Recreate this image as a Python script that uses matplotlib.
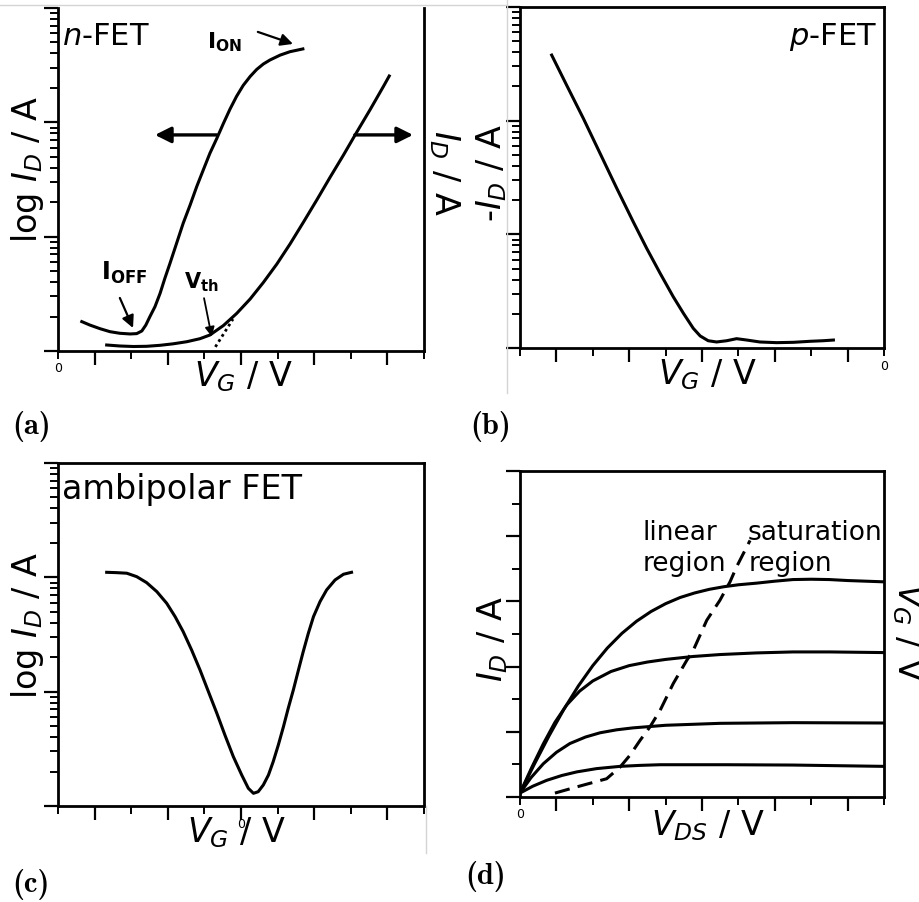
import numpy as np
import matplotlib
matplotlib.use("Agg")
import matplotlib.pyplot as plt
from matplotlib.lines import Line2D
from matplotlib.ticker import FixedLocator, LogLocator, NullFormatter

# ---- (a) n-FET transfer curves ----
a_vg_log = [0.65, 0.87, 1.15, 1.42, 1.69, 1.97, 2.15, 2.29, 2.40, 2.51, 2.65, 2.79,
            2.92, 3.06, 3.24, 3.42, 3.61, 3.79, 3.97, 4.15, 4.34, 4.52, 4.70, 4.88,
            5.06, 5.25, 5.43, 5.61, 5.79, 6.07, 6.34, 6.69]
a_log_id = [0.257, 0.227, 0.195, 0.169, 0.155, 0.149, 0.152, 0.175, 0.227, 0.300,
            0.388, 0.505, 0.636, 0.767, 0.942, 1.117, 1.277, 1.438, 1.584, 1.729,
            1.860, 1.991, 2.116, 2.228, 2.323, 2.401, 2.463, 2.510, 2.545, 2.588,
            2.618, 2.642]
a_vg_lin = [1.33, 1.69, 2.06, 2.42, 2.79, 3.15, 3.52, 3.88, 4.15, 4.52, 4.88, 5.25,
            5.61, 5.98, 6.34, 6.70, 7.07, 7.43, 7.80, 8.16, 8.53, 8.89, 9.05]
a_id_lin = [0.175, 0.146, 0.131, 0.137, 0.166, 0.210, 0.271, 0.359, 0.466, 0.743,
            1.093, 1.516, 1.997, 2.536, 3.120, 3.746, 4.402, 5.058, 5.714, 6.376,
            7.041, 7.711, 8.017]
vth_fit_x = [4.30, 4.78]
vth_fit_y = [0.12, 0.93]

# ---- (b) p-FET ----
b_vg = [0.87, 1.28, 1.74, 2.20, 2.66, 3.11, 3.48, 3.85, 4.21, 4.49, 4.76, 4.95,
        5.17, 5.40, 5.68, 5.95, 6.23, 6.59, 7.05, 7.51, 7.97, 8.33, 8.61]
b_log_id = [2.577, 2.313, 2.020, 1.712, 1.404, 1.111, 0.877, 0.657, 0.451, 0.305,
            0.173, 0.106, 0.064, 0.053, 0.064, 0.082, 0.070, 0.053, 0.047, 0.050,
            0.059, 0.064, 0.070]

# ---- (c) ambipolar FET ----
c_vg = [1.33, 1.60, 1.88, 2.15, 2.42, 2.70, 2.97, 3.20, 3.42, 3.65, 3.88, 4.11,
        4.34, 4.56, 4.79, 5.02, 5.20, 5.34, 5.47, 5.61, 5.75, 5.88, 6.02, 6.16,
        6.29, 6.43, 6.57, 6.70, 6.84, 6.98, 7.16, 7.34, 7.57, 7.80, 8.02]
c_log_id = [2.044, 2.041, 2.036, 2.006, 1.954, 1.875, 1.773, 1.656, 1.525, 1.365,
            1.190, 1.000, 0.811, 0.621, 0.432, 0.271, 0.155, 0.111, 0.125, 0.184,
            0.271, 0.388, 0.534, 0.694, 0.854, 1.015, 1.190, 1.350, 1.511, 1.656,
            1.788, 1.890, 1.977, 2.027, 2.044]

# ---- (d) output curves, one per gate voltage ----
d_vds_1 = [0, 0.4, 0.8, 1.2, 1.6, 2.0, 2.4, 2.8, 3.2, 3.6, 4.0, 4.4, 4.8, 5.2, 5.6,
           6.0, 6.5, 7.0, 7.5, 8.0, 8.5, 9.0, 9.5, 10.0]
d_id_1 = [0.12, 1.02, 1.88, 2.68, 3.40, 4.03, 4.57, 5.02, 5.39, 5.69, 5.93, 6.12,
          6.26, 6.37, 6.45, 6.51, 6.56, 6.62, 6.67, 6.68, 6.67, 6.64, 6.62, 6.60]
d_vds_2 = [0, 0.32, 0.64, 0.96, 1.28, 1.64, 2.0, 2.5, 3.0, 3.5, 4.0, 4.75, 5.5,
           6.5, 7.5, 8.5, 10.0]
d_id_2 = [0.12, 0.90, 1.63, 2.29, 2.82, 3.25, 3.56, 3.85, 4.03, 4.14, 4.22, 4.31,
          4.37, 4.42, 4.45, 4.45, 4.43]
d_vds_3 = [0, 0.3, 0.64, 1.0, 1.37, 1.8, 2.2, 2.65, 3.1, 4.0, 5.5, 7.5, 10.0]
d_id_3 = [0.12, 0.59, 1.02, 1.37, 1.64, 1.84, 1.97, 2.06, 2.12, 2.20, 2.26, 2.28,
          2.27]
d_vds_4 = [0, 0.35, 0.73, 1.15, 1.56, 2.10, 2.75, 3.30, 3.85, 5.68, 7.50, 9.98]
d_id_4 = [0.12, 0.33, 0.51, 0.66, 0.77, 0.87, 0.94, 0.97, 0.99, 0.99, 0.98, 0.94]
d_sat_x = [0.96, 1.56, 2.38, 2.75, 3.02, 3.30, 3.57, 3.85, 4.21, 4.58, 4.76, 5.13,
           5.49, 5.77, 5.95, 6.32]
d_sat_y = [0.12, 0.31, 0.56, 0.92, 1.28, 1.74, 2.15, 2.66, 3.48, 4.19, 4.50, 5.42,
           6.03, 6.60, 7.06, 7.87]

W, H = 920, 902
LW = 2.2


def fpos(x, y):
    return x / W, 1 - y / H


def box(l, t, r, b):
    return [l / W, 1 - b / H, (r - l) / W, (b - t) / H]


def style(ax, log=True, top=True):
    for s in ax.spines.values():
        s.set_linewidth(2.0)
    ax.spines["top"].set_visible(top)
    ax.set_xlim(0, 10)
    ax.xaxis.set_major_locator(FixedLocator([1, 3, 5, 7, 9]))
    ax.xaxis.set_minor_locator(FixedLocator([0, 2, 4, 6, 8, 10]))
    if log:
        ax.set_yscale("log")
        ax.set_ylim(1, 1000)
        ax.yaxis.set_major_locator(LogLocator(base=10))
        ax.yaxis.set_minor_locator(LogLocator(base=10, subs=np.arange(2, 10)))
    else:
        ax.set_ylim(0, 10)
        ax.yaxis.set_major_locator(FixedLocator([0, 2, 4, 6, 8, 10]))
        ax.yaxis.set_minor_locator(FixedLocator([1, 3, 5, 7, 9]))
    for axis in (ax.xaxis, ax.yaxis):
        axis.set_major_formatter(NullFormatter())
        axis.set_minor_formatter(NullFormatter())
    ax.tick_params(which="both", direction="out", left=True, bottom=True,
                   right=False, top=False, labelleft=False, labelbottom=False)
    ax.tick_params(which="major", length=10, width=1.6)
    ax.tick_params(which="minor", length=6, width=1.4)


def zero_label(ax, x):
    ax.annotate("0", xy=(x, 0), xycoords=("data", "axes fraction"),
                xytext=(0, -18), textcoords="offset pixels",
                ha="center", va="center", fontsize=9)


def panel_letter(x, y, s):
    fig.text(*fpos(x, y), s, fontsize=22, va="center", family="cmb10")


fig = plt.figure(figsize=(9.2, 9.02), dpi=100)

# (a)
ax = fig.add_axes(box(58, 8, 424, 351))
ax2 = ax.twinx()
style(ax, log=True, top=False)
ax2.set_ylim(0, 10)
ax2.set_yticks([])
for s in ax2.spines.values():
    s.set_visible(False)
ax.plot(a_vg_log, 10 ** np.array(a_log_id), color="k", lw=LW)
ax2.plot(a_vg_lin, a_id_lin, color="k", lw=LW)
ax2.plot(vth_fit_x, vth_fit_y, color="k", lw=2, ls=(0, (1, 1.2)))
big = dict(arrowstyle="-|>", lw=2.4, color="k", mutation_scale=24,
           shrinkA=0, shrinkB=0)
small = dict(arrowstyle="-|>", lw=1.6, color="k", mutation_scale=18,
             shrinkA=0, shrinkB=0)
ax.annotate("", xy=(2.65, 77.6), xytext=(4.34, 77.6), arrowprops=big)
ax2.annotate("", xy=(9.70, 6.30), xytext=(8.11, 6.30), arrowprops=big)
ax.annotate("", xy=(6.42, 485), xytext=(5.46, 618), arrowprops=small)
ax.annotate("", xy=(2.05, 1.59), xytext=(1.69, 2.91), arrowprops=small)
ax2.annotate("", xy=(4.20, 0.42), xytext=(3.99, 1.54),
             arrowprops=dict(arrowstyle="-|>", lw=1.3, color="k",
                             mutation_scale=14, shrinkA=0, shrinkB=0))
zero_label(ax, 0)
fig.text(*fpos(207, 48), r"$\mathbf{I}_{\mathbf{ON}}$", fontsize=16, va="baseline")
fig.text(*fpos(101, 280), r"$\mathbf{I}_{\mathbf{OFF}}$", fontsize=17, va="baseline")
fig.text(*fpos(184, 288), r"$\mathbf{V}_{\mathbf{th}}$", fontsize=15, va="baseline")
fig.text(*fpos(62, 45), r"$n$-FET", fontsize=22, va="baseline")
fig.text(*fpos(28, 169), r"log $I_D$ / A", rotation=90, fontsize=24,
         ha="center", va="center")
fig.text(*fpos(243, 377), r"$V_G$ / V", fontsize=24, ha="center", va="center")
fig.text(*fpos(444, 173), r"$I_D$ / A", rotation=270, fontsize=24,
         ha="center", va="center")

# (b)
bx = fig.add_axes(box(520, 7, 884, 348))
style(bx, log=True)
bx.plot(b_vg, 10 ** np.array(b_log_id), color="k", lw=LW)
zero_label(bx, 10)
fig.text(*fpos(877, 45), r"$p$-FET", fontsize=22, ha="right", va="baseline")
fig.text(*fpos(492, 173), r"-$I_D$ / A", rotation=90, fontsize=24,
         ha="center", va="center")
fig.text(*fpos(707, 375), r"$V_G$ / V", fontsize=24, ha="center", va="center")

# (c)
cx = fig.add_axes(box(58, 463, 424, 806))
style(cx, log=True)
cx.plot(c_vg, 10 ** np.array(c_log_id), color="k", lw=LW)
fig.text(*fpos(62, 499), "ambipolar FET", fontsize=24, va="baseline")
fig.text(*fpos(28, 625), r"log $I_D$ / A", rotation=90, fontsize=24,
         ha="center", va="center")
fig.text(*fpos(236, 833), r"$V_G$ / V", fontsize=24, ha="center", va="center")
zero_label(cx, 5)

# (d)
dx = fig.add_axes(box(520, 471, 884, 797))
style(dx, log=False)
for xs, ys in [(d_vds_1, d_id_1), (d_vds_2, d_id_2), (d_vds_3, d_id_3),
               (d_vds_4, d_id_4)]:
    dx.plot(xs, ys, color="k", lw=LW)
dx.plot(d_sat_x, d_sat_y, color="k", lw=LW, ls=(0, (5, 2.7)))
zero_label(dx, 0)
fig.text(*fpos(643, 540), "linear", fontsize=19, va="baseline")
fig.text(*fpos(643, 571), "region", fontsize=19, va="baseline")
fig.text(*fpos(748, 540), "saturation", fontsize=19, va="baseline")
fig.text(*fpos(749, 571), "region", fontsize=19, va="baseline")
fig.text(*fpos(493, 639), r"$I_D$ / A", rotation=90, fontsize=24,
         ha="center", va="center")
fig.text(*fpos(708, 826), r"$V_{DS}$ / V", fontsize=24, ha="center", va="center")
fig.text(*fpos(907, 632), r"$V_G$ / V", rotation=270, fontsize=24,
         ha="center", va="center")

# panel letters
panel_letter(12, 427, "(a)")
panel_letter(470, 427, "(b)")
panel_letter(12, 884, "(c)")
panel_letter(465, 877, "(d)")

# faint crop edges seen in the source image
grey = "#d4d4d4"
fig.add_artist(Line2D([0, 507 / W], [1 - 5 / H] * 2, color=grey, lw=1))
fig.add_artist(Line2D([507 / W] * 2, [1, 1 - 393 / H], color=grey, lw=1))
fig.add_artist(Line2D([426 / W] * 2, [1 - 806 / H, 1 - 853 / H], color=grey, lw=1))

fig.savefig("out.png", dpi=100)
